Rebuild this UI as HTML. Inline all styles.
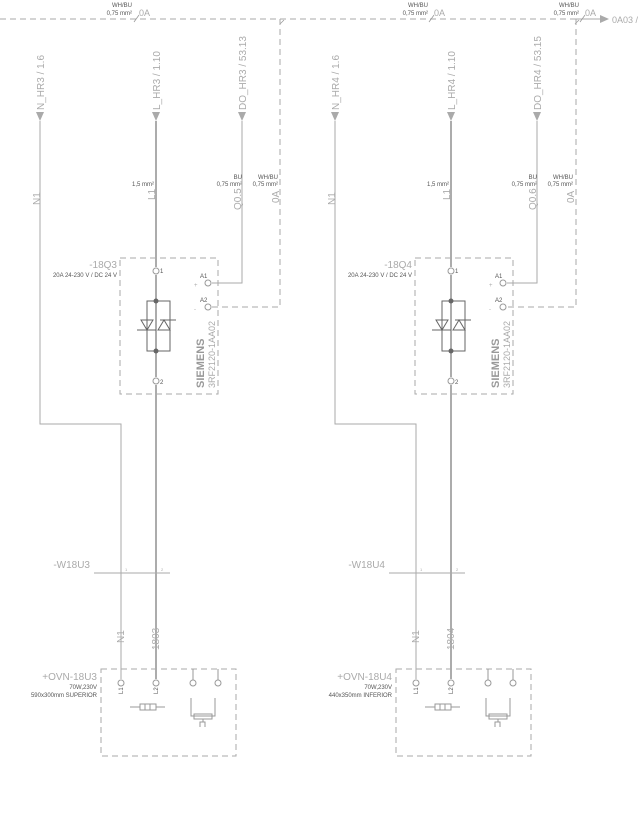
<!DOCTYPE html>
<html><head><meta charset="utf-8"><style>
html,body{margin:0;padding:0;background:#fff;}
svg{display:block;font-family:"Liberation Sans",sans-serif;}
</style></head><body>
<svg width="644" height="815" viewBox="0 0 644 815" xmlns="http://www.w3.org/2000/svg">
<!-- top bus -->
<line x1="0" y1="19" x2="598" y2="19" stroke="#aaa" stroke-width="1" stroke-dasharray="6,4"/>
<line x1="572" y1="19" x2="600" y2="19" stroke="#aaa"/>
<polygon points="600,15 609,19 600,23" fill="#aaa"/>
<text x="612" y="23" font-size="9" fill="#aaa">0A03 /</text>
<g font-size="6" fill="#555" text-anchor="end">
<text x="132" y="7">WH/BU</text><text x="132" y="15">0,75 mm²</text>
<text x="428" y="7">WH/BU</text><text x="428" y="15">0,75 mm²</text>
<text x="579" y="7">WH/BU</text><text x="579" y="15">0,75 mm²</text>
</g>
<g font-size="9" fill="#aaa">
<text x="139" y="16">0A</text><text x="434" y="16">0A</text><text x="585" y="16">0A</text>
</g>
<g stroke="#999" stroke-width="0.8">
<line x1="134" y1="22" x2="139" y2="15"/><line x1="429" y1="22" x2="434" y2="15"/><line x1="580" y1="22" x2="585" y2="15"/>
<line x1="280" y1="24" x2="284" y2="20"/><line x1="575" y1="24" x2="579" y2="20"/>
</g>

<g id="A">
<!-- arrows and top labels -->
<g fill="#aaa">
<polygon points="36,112 44,112 40,121"/>
<polygon points="152,112 160,112 156,121"/>
<polygon points="238,112 246,112 242,121"/>
</g>
<g font-size="10" fill="#aaa">
<text transform="translate(44,110) rotate(-90)">N_HR3 / 1.6</text>
<text transform="translate(160,110) rotate(-90)">L_HR3 / 1.10</text>
<text transform="translate(246,110) rotate(-90)">DO_HR3 / 53.13</text>
<text transform="translate(40,205) rotate(-90)">N1</text>
<text transform="translate(155,200) rotate(-90)">L1</text>
<text transform="translate(241,210) rotate(-90)">Q0.5</text>
<text transform="translate(279,203) rotate(-90)">0A</text>
</g>
<g font-size="6" fill="#555" text-anchor="end">
<text x="154" y="186">1,5 mm²</text>
<text x="242" y="179">BU</text><text x="242" y="186">0,75 mm²</text>
<text x="278" y="179">WH/BU</text><text x="278" y="186">0,75 mm²</text>
</g>
<!-- wires -->
<polyline points="40,121 40,424 121,424 121,679" fill="none" stroke="#aaa" stroke-width="1"/>
<line x1="156" y1="121" x2="156" y2="267" stroke="#888" stroke-width="1.4"/>
<line x1="156" y1="275" x2="156" y2="377" stroke="#888" stroke-width="1.4"/>
<line x1="156" y1="385" x2="156" y2="679" stroke="#888" stroke-width="1.4"/>
<polyline points="242,121 242,283 212,283" fill="none" stroke="#aaa" stroke-width="1"/>
<polyline points="280,19 280,307 212,307" fill="none" stroke="#aaa" stroke-dasharray="6,4"/>
<!-- relay box -->
<rect x="120" y="258" width="98" height="136" fill="none" stroke="#aaa" stroke-dasharray="6,4"/>
<text x="117" y="268" font-size="10" fill="#aaa" text-anchor="end">-18Q3</text>
<text x="117" y="277" font-size="6" fill="#555" text-anchor="end">20A 24-230 V / DC 24 V</text>
<g fill="#fff" stroke="#999">
<circle cx="156" cy="271" r="3"/><circle cx="156" cy="381" r="3"/>
<circle cx="208" cy="283" r="3"/><circle cx="208" cy="307" r="3"/>
</g>
<g font-size="6" fill="#555"><text x="160" y="273">1</text><text x="160" y="384">2</text>
<text x="200" y="278">A1</text><text x="200" y="302">A2</text></g>
<g font-size="6" fill="#aaa"><text x="194" y="287">+</text><text x="194" y="311">-</text></g>
<rect x="147" y="301" width="23" height="50" fill="none" stroke="#666"/>
<circle cx="156" cy="301" r="2.5" fill="#666"/><circle cx="156" cy="351" r="2.5" fill="#666"/>
<g stroke="#666" fill="none">
<polygon points="141,320 153,320 147,330"/><line x1="137" y1="330" x2="156" y2="330"/>
<polygon points="164,320 158,330 170,330"/><line x1="160" y1="320" x2="176" y2="320"/>
</g>
<text transform="translate(204,388) rotate(-90)" font-size="11" font-weight="bold" fill="#999">SIEMENS</text>
<text transform="translate(215,388) rotate(-90)" font-size="9" fill="#aaa">3RF2120-1AA02</text>
<!-- cable -->
<line x1="94" y1="573" x2="170" y2="573" stroke="#aaa"/>
<text x="90" y="568" font-size="10" fill="#aaa" text-anchor="end">-W18U3</text>
<g font-size="4" fill="#aaa"><text x="125" y="571">1</text><text x="161" y="571">2</text></g>
<g font-size="10" fill="#aaa">
<text transform="translate(124,643) rotate(-90)">N1</text>
<text transform="translate(159,650) rotate(-90)">1803</text>
</g>
<!-- heater box -->
<rect x="101" y="669" width="135" height="87" fill="none" stroke="#aaa" stroke-dasharray="6,4"/>
<text x="97" y="680" font-size="10" fill="#aaa" text-anchor="end">+OVN-18U3</text>
<text x="97" y="689" font-size="6" fill="#555" text-anchor="end">70W,230V</text>
<text x="97" y="697" font-size="6" fill="#555" text-anchor="end">590x300mm SUPERIOR</text>
<g stroke="#999" fill="none">
<polyline points="193,669 193,680"/><polyline points="218,669 218,680"/>
<line x1="130" y1="707" x2="140" y2="707"/><rect x="140" y="704" width="16" height="6"/><line x1="145" y1="704" x2="145" y2="710"/><line x1="150" y1="704" x2="150" y2="710"/><line x1="156" y1="707" x2="165" y2="707"/>
<polyline points="191,698 191,716 215,716 215,698"/>
<rect x="194" y="714" width="18" height="5"/>
<polyline points="200,727 200,722 205,722 205,727"/><line x1="203" y1="719" x2="203" y2="722"/>
</g>
<g fill="#fff" stroke="#999"><circle cx="121" cy="683" r="3"/><circle cx="156" cy="683" r="3"/><circle cx="193" cy="683" r="3"/><circle cx="218" cy="683" r="3"/></g>
<g font-size="6" fill="#555"><text transform="translate(123,694) rotate(-90)">L1</text><text transform="translate(158,694) rotate(-90)">L2</text></g>
</g>

<g transform="translate(295,0)">
<g fill="#aaa">
<polygon points="36,112 44,112 40,121"/>
<polygon points="152,112 160,112 156,121"/>
<polygon points="238,112 246,112 242,121"/>
</g>
<g font-size="10" fill="#aaa">
<text transform="translate(44,110) rotate(-90)">N_HR4 / 1.6</text>
<text transform="translate(160,110) rotate(-90)">L_HR4 / 1.10</text>
<text transform="translate(246,110) rotate(-90)">DO_HR4 / 53.15</text>
<text transform="translate(40,205) rotate(-90)">N1</text>
<text transform="translate(155,200) rotate(-90)">L1</text>
<text transform="translate(241,210) rotate(-90)">Q0.6</text>
<text transform="translate(279,203) rotate(-90)">0A</text>
</g>
<g font-size="6" fill="#555" text-anchor="end">
<text x="154" y="186">1,5 mm²</text>
<text x="242" y="179">BU</text><text x="242" y="186">0,75 mm²</text>
<text x="278" y="179">WH/BU</text><text x="278" y="186">0,75 mm²</text>
</g>
<polyline points="40,121 40,424 121,424 121,679" fill="none" stroke="#aaa" stroke-width="1"/>
<line x1="156" y1="121" x2="156" y2="267" stroke="#888" stroke-width="1.4"/>
<line x1="156" y1="275" x2="156" y2="377" stroke="#888" stroke-width="1.4"/>
<line x1="156" y1="385" x2="156" y2="679" stroke="#888" stroke-width="1.4"/>
<polyline points="242,121 242,283 212,283" fill="none" stroke="#aaa" stroke-width="1"/>
<polyline points="281,19 281,307 212,307" fill="none" stroke="#aaa" stroke-dasharray="6,4"/>
<rect x="120" y="258" width="98" height="136" fill="none" stroke="#aaa" stroke-dasharray="6,4"/>
<text x="117" y="268" font-size="10" fill="#aaa" text-anchor="end">-18Q4</text>
<text x="117" y="277" font-size="6" fill="#555" text-anchor="end">20A 24-230 V / DC 24 V</text>
<g fill="#fff" stroke="#999">
<circle cx="156" cy="271" r="3"/><circle cx="156" cy="381" r="3"/>
<circle cx="208" cy="283" r="3"/><circle cx="208" cy="307" r="3"/>
</g>
<g font-size="6" fill="#555"><text x="160" y="273">1</text><text x="160" y="384">2</text>
<text x="200" y="278">A1</text><text x="200" y="302">A2</text></g>
<g font-size="6" fill="#aaa"><text x="194" y="287">+</text><text x="194" y="311">-</text></g>
<rect x="147" y="301" width="23" height="50" fill="none" stroke="#666"/>
<circle cx="156" cy="301" r="2.5" fill="#666"/><circle cx="156" cy="351" r="2.5" fill="#666"/>
<g stroke="#666" fill="none">
<polygon points="141,320 153,320 147,330"/><line x1="137" y1="330" x2="156" y2="330"/>
<polygon points="164,320 158,330 170,330"/><line x1="160" y1="320" x2="176" y2="320"/>
</g>
<text transform="translate(204,388) rotate(-90)" font-size="11" font-weight="bold" fill="#999">SIEMENS</text>
<text transform="translate(215,388) rotate(-90)" font-size="9" fill="#aaa">3RF2120-1AA02</text>
<line x1="94" y1="573" x2="170" y2="573" stroke="#aaa"/>
<text x="90" y="568" font-size="10" fill="#aaa" text-anchor="end">-W18U4</text>
<g font-size="4" fill="#aaa"><text x="125" y="571">1</text><text x="161" y="571">2</text></g>
<g font-size="10" fill="#aaa">
<text transform="translate(124,643) rotate(-90)">N1</text>
<text transform="translate(159,650) rotate(-90)">1804</text>
</g>
<rect x="101" y="669" width="135" height="87" fill="none" stroke="#aaa" stroke-dasharray="6,4"/>
<text x="97" y="680" font-size="10" fill="#aaa" text-anchor="end">+OVN-18U4</text>
<text x="97" y="689" font-size="6" fill="#555" text-anchor="end">70W,230V</text>
<text x="97" y="697" font-size="6" fill="#555" text-anchor="end">440x350mm INFERIOR</text>
<g stroke="#999" fill="none">
<polyline points="193,669 193,680"/><polyline points="218,669 218,680"/>
<line x1="130" y1="707" x2="140" y2="707"/><rect x="140" y="704" width="16" height="6"/><line x1="145" y1="704" x2="145" y2="710"/><line x1="150" y1="704" x2="150" y2="710"/><line x1="156" y1="707" x2="165" y2="707"/>
<polyline points="191,698 191,716 215,716 215,698"/>
<rect x="194" y="714" width="18" height="5"/>
<polyline points="200,727 200,722 205,722 205,727"/><line x1="203" y1="719" x2="203" y2="722"/>
</g>
<g fill="#fff" stroke="#999"><circle cx="121" cy="683" r="3"/><circle cx="156" cy="683" r="3"/><circle cx="193" cy="683" r="3"/><circle cx="218" cy="683" r="3"/></g>
<g font-size="6" fill="#555"><text transform="translate(123,694) rotate(-90)">L1</text><text transform="translate(158,694) rotate(-90)">L2</text></g>
</g>
</svg>
</body></html>
